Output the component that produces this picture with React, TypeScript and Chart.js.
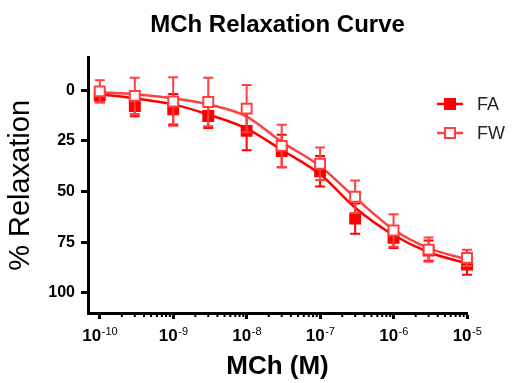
import { useEffect, useRef } from 'react';
import { Chart, registerables } from 'chart.js';

Chart.register(...registerables);

// Data
const doses = [1e-10, 3e-10, 1e-9, 3e-9, 1e-8, 3e-8, 1e-7, 3e-7, 1e-6, 3e-6, 1e-5];
const faMean = [2.5, 7.8, 9.4, 12.7, 20.1, 30, 40, 63.4, 72.9, 79.2, 86.1];
const faErr = [3.5, 5, 7.5, 6, 9.5, 8, 7.5, 7.5, 5, 5, 5];
const fwMean = [0.6, 2.8, 5.6, 5.8, 9.1, 27.5, 36.3, 52.6, 69.3, 78.7, 82.8];
const fwErr = [5.5, 9, 12, 12, 11.7, 10.5, 8, 8, 8, 6, 4];
const faFit = [2, 4, 7, 12, 19, 29.5, 41.5, 58, 71.5, 80, 85.5];
const fwFit = [1, 2, 4, 7, 13, 25.5, 37.5, 53, 68.8, 78, 83.5];
const xTickExps = [-10, -9, -8, -7, -6, -5];
const xMinorMultipliers = [2, 3, 4, 5, 6, 7, 8, 9];
const yTicks = [0, 25, 50, 75, 100];
const seriesNames = ['FA', 'FW'];

const FAMILY = '"Liberation Sans", Arial, sans-serif';
const FA_COLOR = '#ff0000';
const FW_COLOR = '#ff4040';

export default function App() {
  const ref = useRef<HTMLCanvasElement>(null);

  useEffect(() => {
    const canvas = ref.current;
    if (!canvas) return;
    const toXY = (ys: number[]) => doses.map((x, i) => ({ x, y: ys[i] }));

    const errorBars = {
      id: 'errorBars',
      beforeDatasetDraw(chart: any, args: any) {
        const ds = chart.data.datasets[args.index];
        if (!ds.errors) return;
        const xs = chart.scales.x;
        const ys = chart.scales.y;
        const c = chart.ctx;
        c.save();
        c.strokeStyle = ds.pointBorderColor;
        c.lineWidth = 2;
        ds.data.forEach((p: any, i: number) => {
          const e = ds.errors[i];
          const px = xs.getPixelForValue(p.x);
          const y1 = ys.getPixelForValue(p.y - e);
          const y2 = ys.getPixelForValue(p.y + e);
          c.beginPath();
          c.moveTo(px, y1);
          c.lineTo(px, y2);
          c.moveTo(px - 5, y1);
          c.lineTo(px + 5, y1);
          c.moveTo(px - 5, y2);
          c.lineTo(px + 5, y2);
          c.stroke();
        });
        c.restore();
      },
    };

    const xAxisDecor = {
      id: 'xAxisDecor',
      afterDraw(chart: any) {
        const xs = chart.scales.x;
        const c = chart.ctx;
        const b = chart.chartArea.bottom;
        c.save();
        // minor ticks
        c.strokeStyle = '#000';
        c.lineWidth = 2;
        xTickExps.slice(0, -1).forEach((e) => {
          xMinorMultipliers.forEach((m) => {
            const px = xs.getPixelForValue(m * Math.pow(10, e));
            c.beginPath();
            c.moveTo(px, b);
            c.lineTo(px, b + 4);
            c.stroke();
          });
        });
        // decade labels: 10 with superscript exponent
        c.fillStyle = '#000';
        c.textBaseline = 'alphabetic';
        c.textAlign = 'left';
        xTickExps.forEach((e) => {
          const px = xs.getPixelForValue(Math.pow(10, e));
          const base = '10';
          const exp = String(e);
          c.font = `bold 17px ${FAMILY}`;
          const w1 = c.measureText(base).width;
          c.font = `11px ${FAMILY}`;
          const w2 = c.measureText(exp).width;
          const x0 = px - (w1 + w2) / 2;
          c.font = `bold 17px ${FAMILY}`;
          c.fillText(base, x0, b + 28);
          c.font = `11px ${FAMILY}`;
          c.fillText(exp, x0 + w1 + 0.5, b + 22);
        });
        c.restore();
      },
    };

    const customLegend = {
      id: 'customLegend',
      afterDraw(chart: any) {
        const c = chart.ctx;
        const items = [
          { name: seriesNames[0], color: FA_COLOR, fill: FA_COLOR },
          { name: seriesNames[1], color: FW_COLOR, fill: '#ffffff' },
        ];
        c.save();
        items.forEach((it, i) => {
          const y = 104 + i * 29;
          c.strokeStyle = it.color;
          c.lineWidth = 2.5;
          c.beginPath();
          c.moveTo(437, y);
          c.lineTo(463, y);
          c.stroke();
          c.fillStyle = it.fill;
          c.lineWidth = 2;
          c.fillRect(445, y - 5, 10, 10);
          c.strokeRect(445, y - 5, 10, 10);
          c.fillStyle = '#222';
          c.font = `18px ${FAMILY}`;
          c.textBaseline = 'middle';
          c.textAlign = 'left';
          c.fillText(it.name, 477, y + 1);
        });
        c.restore();
      },
    };

    const chart = new Chart(canvas, {
      type: 'line',
      data: {
        datasets: [
          {
            label: 'FA fit', data: toXY(faFit), borderColor: FA_COLOR, borderWidth: 2.5,
            pointRadius: 0, cubicInterpolationMode: 'monotone', fill: false, order: 3, clip: false,
          } as any,
          {
            label: 'FW fit', data: toXY(fwFit), borderColor: FW_COLOR, borderWidth: 2.5,
            pointRadius: 0, cubicInterpolationMode: 'monotone', fill: false, order: 2, clip: false,
          } as any,
          {
            label: seriesNames[0], data: toXY(faMean), showLine: false, pointStyle: 'rect',
            pointRadius: 7, pointBackgroundColor: FA_COLOR, pointBorderColor: FA_COLOR,
            pointBorderWidth: 2, errors: faErr, order: 1, clip: false,
          } as any,
          {
            label: seriesNames[1], data: toXY(fwMean), showLine: false, pointStyle: 'rect',
            pointRadius: 7, pointBackgroundColor: '#ffffff', pointBorderColor: FW_COLOR,
            pointBorderWidth: 2, errors: fwErr, order: 0, clip: false,
          } as any,
        ],
      },
      options: {
        responsive: false,
        animation: false,
        layout: { padding: { top: 0, right: 49, bottom: 0, left: 0 } },
        scales: {
          x: {
            type: 'logarithmic',
            min: Math.pow(10, -10.16),
            max: 1e-5,
            afterBuildTicks: (s: any) => { s.ticks = xTickExps.map((e) => ({ value: Math.pow(10, e) })); },
            afterFit: (s: any) => { s.height = 70; },
            ticks: { display: false, autoSkip: false, maxRotation: 0 },
            grid: { drawOnChartArea: false, drawTicks: true, tickLength: 6, tickWidth: 3, tickColor: '#000', color: '#000' },
            border: { display: true, color: '#000', width: 3 },
            title: {
              display: true, text: 'MCh (M)', color: '#000',
              font: { family: FAMILY, size: 26, weight: 'bold' }, padding: { top: 0, bottom: 1 },
            },
          } as any,
          y: {
            type: 'linear',
            reverse: true,
            min: -16,
            max: 110,
            afterBuildTicks: (s: any) => { s.ticks = yTicks.map((v) => ({ value: v })); },
            afterFit: (s: any) => { s.width = 88; },
            ticks: { padding: 6, color: '#000', font: { family: FAMILY, size: 16, weight: 'bold' } },
            grid: { drawOnChartArea: false, drawTicks: true, tickLength: 7, tickWidth: 3, tickColor: '#000', color: '#000' },
            border: { display: true, color: '#000', width: 3 },
            title: {
              display: true, text: '% Relaxation', color: '#000',
              font: { family: FAMILY, size: 29, weight: 'normal' }, padding: { top: 4, bottom: 0 },
            },
          } as any,
        },
        plugins: {
          legend: { display: false },
          tooltip: { enabled: false },
          title: {
            display: true, text: 'MCh Relaxation Curve', fullSize: false, color: '#000',
            font: { family: FAMILY, size: 24, weight: 'bold' }, padding: { top: 11, bottom: 18 },
          } as any,
        },
      } as any,
      plugins: [errorBars, xAxisDecor, customLegend],
    });

    return () => chart.destroy();
  }, []);

  return (
    <div style={{ position: 'fixed', left: 0, top: 0, width: 516, height: 383, background: '#fff' }}>
      <canvas ref={ref} width={516} height={383} style={{ display: 'block' }} />
    </div>
  );
}
